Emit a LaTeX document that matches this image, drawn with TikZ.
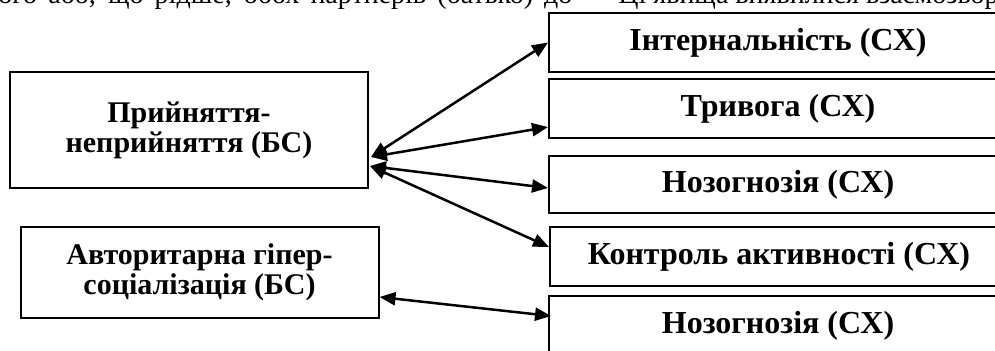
\documentclass[tikz,border=0pt]{standalone}
\usepackage{fontspec}
\setmainfont{Liberation Serif}
\usetikzlibrary{calc,arrows.meta}
\tikzset{
  box/.style={draw, line width=1pt, inner sep=0pt, align=center},
  lbox/.style={box, minimum width=179pt,
    font=\bfseries\fontsize{15}{15}\selectfont},
  rbox/.style={box, minimum width=229pt, minimum height=29.5pt,
    font=\bfseries\fontsize{16}{16}\selectfont},
  link/.style={{Triangle[length=8pt,width=6.5pt]}-{Triangle[length=8pt,width=6.5pt]}, line width=1.25pt},
  line/.style={anchor=base west, inner sep=0pt, font=\fontsize{14}{16}\selectfont}
}
\begin{document}
\begin{tikzpicture}[x=0.5pt,y=-0.5pt]
\useasboundingbox (0,0) rectangle (995,351);
\clip (0,0) rectangle (995,351);
\node[line] (t1) at (-2,4) {\makebox[287pt][s]{ого або, що рідше, обох партнерів (батько) до}};
\node[line] (t2) at (618,4) {Ці явища виявилися взаємозворо};

\node[lbox, minimum height=58pt] (l1) at (189,130) {Прийняття-\\неприйняття (БС)};
\node[lbox, minimum height=45.5pt] (l2) at (199.5,272.5) {Авторитарна гіпер-\\соціалізація (БС)};

\node[rbox] (r1) at (778,42.5) {Інтернальність (СХ)};
\node[rbox] (r2) at (778,108.5) {Тривога (СХ)};
\node[rbox, minimum height=28.5pt] (r3) at (778,184.5) {Нозогнозія (СХ)};
\node[rbox] (r4) at (779,256.5) {Контроль активності (СХ)};
\node[rbox] (r5) at (778,325.5) {Нозогнозія (СХ)};

\draw[link] ($(l1.east)+(2,27)$) -- (r1.west);
\draw[link] ($(l1.east)+(2,27)$) -- ($(r2.west)+(0,18.5)$);
\draw[link] ($(l1.east)+(1,36)$) -- ($(r3.west)+(0,3.5)$);
\draw[link] ($(l1.east)+(1,36)$) -- ($(r4.west)+(0,-9.5)$);
\draw[link] ($(l2.east)+(0,24.5)$) -- ($(r5.west)+(3,-9.5)$);
\end{tikzpicture}
\end{document}
